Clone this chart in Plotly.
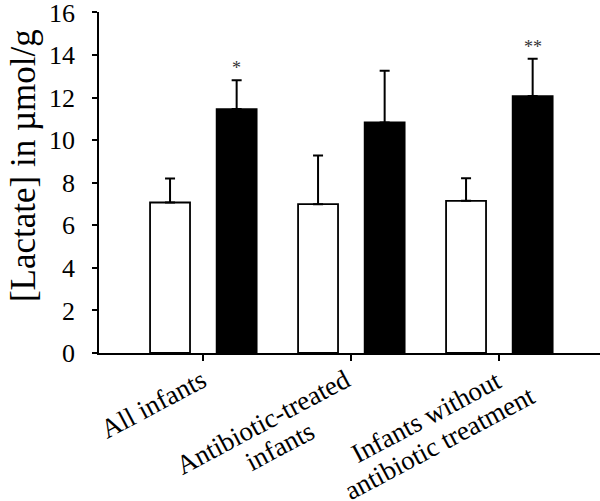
import plotly.graph_objects as go

categories = ["All infants", "Antibiotic-treated infants", "Infants without antibiotic treatment"]
tick_label_lines = [["All infants"], ["Antibiotic-treated", "infants"], ["Infants without", "antibiotic treatment"]]
white_values = [7.07, 6.99, 7.15]
white_errors = [1.13, 2.29, 1.06]
black_values = [11.46, 10.83, 12.07]
black_errors = [1.35, 2.43, 1.75]
significance = ["*", "", "**"]
y_ticks = [0, 2, 4, 6, 8, 10, 12, 14, 16]

FONT = "Liberation Serif, Times New Roman, serif"
BARGAP = 0.10
BARGROUPGAP = 0.40
LABEL_ANGLE = -28
# pixel offsets (right, down) of each label line's centre from its category tick
label_offsets = [[(-49.5, 50.9)], [(-88, 69.2), (-71, 92.7)], [(-73.1, 64.2), (-59.5, 89.8)]]

fig = go.Figure()
fig.add_trace(go.Bar(
    x=categories, y=white_values, name="white",
    marker=dict(color="white", line=dict(color="black", width=1.8)),
    error_y=dict(type="data", array=white_errors, arrayminus=[0]*3, symmetric=False,
                 color="black", thickness=2, width=5),
))
fig.add_trace(go.Bar(
    x=categories, y=black_values, name="black",
    marker=dict(color="black", line=dict(color="black", width=1.8)),
    error_y=dict(type="data", array=black_errors, arrayminus=[0]*3, symmetric=False,
                 color="black", thickness=2, width=5),
))

annotations = []
# significance marks above black bars
off = (1 - BARGAP) / 4
for i, s in enumerate(significance):
    if s:
        annotations.append(dict(
            x=i + off, y=black_values[i] + black_errors[i], xref="x", yref="y",
            text=s, showarrow=False, xanchor="center", yanchor="bottom",
            font=dict(family=FONT, size=18, color="#333"),
        ))
# rotated category labels, one annotation per line
for i, c in enumerate(categories):
    for line, (dx, dy) in zip(tick_label_lines[i], label_offsets[i]):
        annotations.append(dict(
            x=c, y=0, xref="x", yref="paper", text=line, showarrow=False,
            xanchor="center", yanchor="middle", textangle=LABEL_ANGLE,
            xshift=dx, yshift=-dy,
            font=dict(family=FONT, size=27, color="black"),
        ))
# y axis title
annotations.append(dict(
    x=-0.1517, y=0.551, xref="paper", yref="paper", text="[Lactate] in µmol/g",
    showarrow=False, textangle=-90, xanchor="center", yanchor="middle",
    font=dict(family=FONT, size=35, color="black"),
))

fig.update_layout(
    width=600, height=501,
    margin=dict(l=99, r=0, t=12, b=148, autoexpand=False),
    paper_bgcolor="white", plot_bgcolor="white",
    barmode="group", bargap=BARGAP, bargroupgap=BARGROUPGAP,
    showlegend=False,
    annotations=annotations,
    xaxis=dict(
        type="category", range=[-0.705, 2.68], automargin=False,
        showline=True, linecolor="black", linewidth=1.5,
        ticks="outside", ticklen=6, tickwidth=1.5, tickcolor="black",
        showticklabels=False, showgrid=False, zeroline=False,
    ),
    yaxis=dict(
        range=[0, 16.02], tickvals=y_ticks, automargin=False,
        showline=True, linecolor="black", linewidth=1.5,
        ticks="outside", ticklen=5, tickwidth=1.5, tickcolor="black",
        ticklabelstandoff=12, ticklabeloverflow="allow",
        tickfont=dict(family=FONT, size=26, color="black"),
        showgrid=False, zeroline=False,
    ),
)

fig.write_html(
    "out.html",
    config={"displayModeBar": False},
    post_script="document.body.style.margin='0';document.body.style.overflow='hidden';",
)
